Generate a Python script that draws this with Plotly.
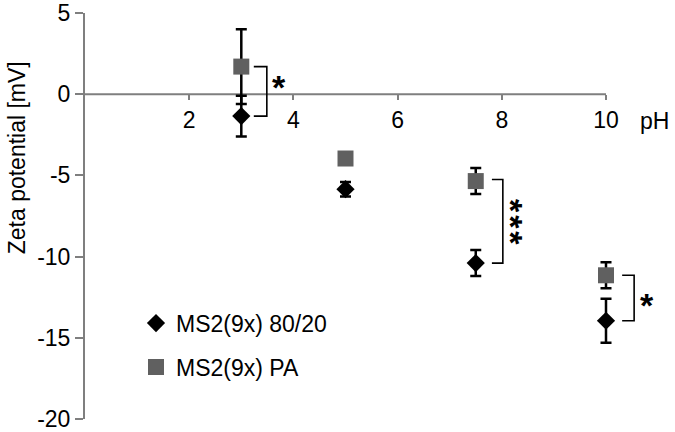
import plotly.graph_objects as go

# Data
ph = [3, 5, 7.5, 10]
name_a = "MS2(9x) 80/20"
zeta_a = [-1.35, -5.85, -10.4, -13.95]
err_a = [1.25, 0.45, 0.8, 1.35]
name_b = "MS2(9x) PA"
zeta_b = [1.7, -3.96, -5.35, -11.15]
err_b = [2.3, 0.3, 0.8, 0.8]

x_ticks = [2, 4, 6, 8, 10]
y_ticks = [5, 0, -5, -10, -15, -20]
y_tick_text = ["5", "0", "-5", "-10", "-15", "-20"]

# significance brackets: x left, x right, y top, y bottom
br_xl = [3.24, 7.81, 10.31]
br_xr = [3.49, 8.02, 10.54]
br_top = [1.7, -5.25, -11.15]
br_bot = [-1.35, -10.4, -13.95]

# significance labels: x, y, text, rotated (vertical stack)
sig_x = [3.72, 8.29, 10.79]
sig_y = [0.8, -7.87, -12.6]
sig_text = ["*", "*\u200a*\u200a*", "*"]
sig_angle = [0, 90, 0]

GREY = "#7f7f7f"
FONT = "Liberation Sans, Arial, sans-serif"
FS = 23

fig = go.Figure()
fig.add_trace(go.Scatter(
    x=ph, y=zeta_a, name=name_a, mode="markers",
    marker=dict(symbol="diamond", size=14, color="black"),
    error_y=dict(type="data", array=err_a, color="black", thickness=2.5, width=5.5),
    legendgroup="a",
))
fig.add_trace(go.Scatter(
    x=ph, y=zeta_b, name=name_b, mode="markers",
    marker=dict(symbol="square", size=16, color="#606060"),
    error_y=dict(type="data", array=err_b, color="black", thickness=2.5, width=5.5),
    legendgroup="b",
))

# x axis line through y=0, ending at x=10
fig.add_shape(type="line", x0=0, x1=10, y0=0, y1=0, xref="x", yref="y",
              line=dict(color=GREY, width=2), layer="below")

for xl, xr, yt, yb in zip(br_xl, br_xr, br_top, br_bot):
    fig.add_shape(type="path",
                  path=f"M {xl},{yt} L {xr},{yt} L {xr},{yb} L {xl},{yb}",
                  xref="x", yref="y", line=dict(color="black", width=1.6))

for sx, sy, st, sa in zip(sig_x, sig_y, sig_text, sig_angle):
    if sa == 0:
        shifts = dict(xshift=0, yshift=-6)
    else:
        shifts = dict(xshift=-6, yshift=0)
    fig.add_annotation(x=sx, y=sy, xref="x", yref="y", text="<b>" + st + "</b>",
                       textangle=sa, showarrow=False, xanchor="center", yanchor="middle",
                       font=dict(size=34, color="black", family=FONT), **shifts)

fig.add_annotation(x=10.94, y=0, xref="x", yref="y", text="pH", showarrow=False,
                   yshift=-27, font=dict(size=FS, color="black", family=FONT))
fig.add_annotation(x=-(85 - 17) / 590, y=(421 - 159) / 408, xref="paper", yref="paper",
                   text="Zeta potential [mV]", textangle=-90, showarrow=False,
                   xanchor="center", yanchor="middle",
                   font=dict(size=FS, color="black", family=FONT))

fig.update_layout(
    width=675, height=432,
    margin=dict(l=85, r=0, t=13, b=11),
    paper_bgcolor="white", plot_bgcolor="white",
    font=dict(family=FONT, size=FS, color="black"),
    showlegend=True,
    legend=dict(x=(136 - 85) / 590, y=(421 - 303) / 408, xanchor="left", yanchor="top",
                bgcolor="rgba(0,0,0,0)", tracegroupgap=11,
                font=dict(size=FS, family=FONT, color="black")),
    xaxis=dict(range=[0, 590 / 52.1], anchor="free", position=0.8,
               tickvals=x_ticks, ticks="outside", ticklen=5, tickwidth=2, tickcolor=GREY,
               showline=False, showgrid=False, zeroline=False,
               ticklabelstandoff=0,
               tickfont=dict(size=FS, family=FONT, color="black")),
    yaxis=dict(range=[-20, 5], tickvals=y_ticks, ticktext=y_tick_text,
               ticks="outside", ticklen=8, tickwidth=2,
               tickcolor=GREY, showline=True, linecolor=GREY, linewidth=2,
               showgrid=False, zeroline=False, ticklabeloverflow="allow",
               tickfont=dict(size=FS, family=FONT, color="black")),
)

fig.write_html("out.html", config={"displayModeBar": False},
               post_script="document.body.style.margin='0px';")
